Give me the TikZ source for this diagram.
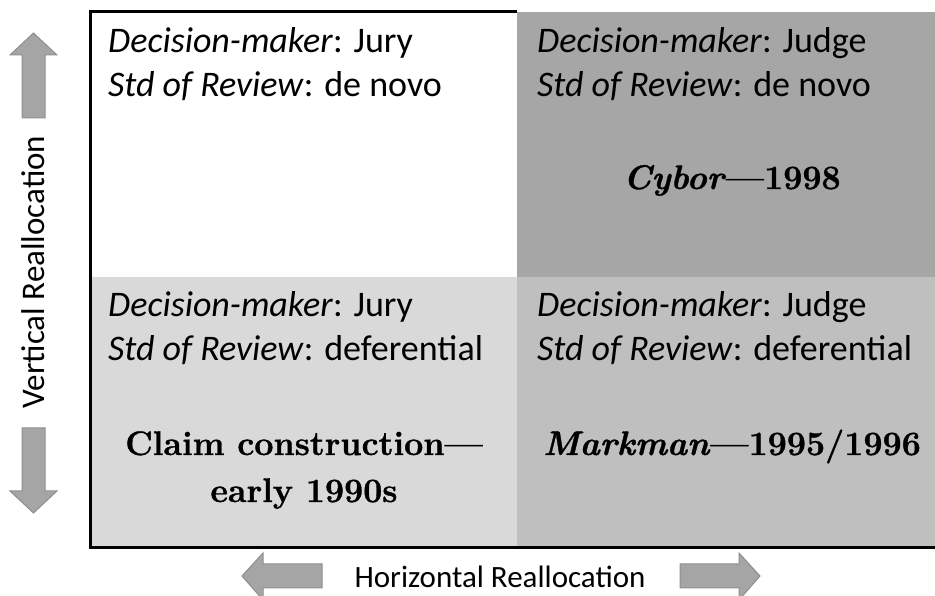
\documentclass[tikz,border=0pt]{standalone}
\usepackage{fontspec}
\setmainfont{Carlito}
\newfontfamily\casefont{Latin Modern Roman}[Ligatures=TeX, BoldFeatures={FakeBold=1}, BoldItalicFeatures={FakeBold=1}]
\usepackage{tikz}
\usetikzlibrary{positioning}
\definecolor{judgejury}{HTML}{D9D9D9}
\definecolor{judgedef}{HTML}{BFBFBF}
\definecolor{judgenovo}{HTML}{A6A6A6}
\definecolor{arrowgray}{HTML}{A5A5A5}
\definecolor{arrowedge}{HTML}{8F8F8F}
\tikzstyle{info}=[anchor=base west, inner sep=0pt, font=\fontsize{36}{44}\selectfont]
\tikzstyle{case}=[anchor=base, inner sep=0pt, font=\casefont\bfseries\fontsize{34}{47}\selectfont]
\tikzstyle{axis}=[anchor=base, inner sep=0pt, font=\fontsize{33}{40}\selectfont]
\tikzstyle{bigarrow}=[fill=arrowgray, draw=arrowedge, line width=1pt, line join=miter]

\begin{document}
\begin{tikzpicture}[x=1pt, y=1pt]
      \useasboundingbox (0, 0) rectangle (935, 596);

      % the four cells
      \fill[fill=white] (90, 584) rectangle (517, 319);
      \fill[fill=judgenovo] (517, 584) rectangle (935, 319);
      \fill[fill=judgejury] (90, 319) rectangle (517, 48);
      \fill[fill=judgedef] (517, 319) rectangle (935, 48);
      \draw[line width=3pt] (517, 584) -- (90, 584) -- (90, 48) -- (935, 48);

      \draw node at (108, 543) [info] (jurynovo) {\textit{Decision-maker}: Jury};
      \draw node at (108, 499) [info] (jurynovostd) {\textit{Std of Review}: de novo};
      \draw node at (537, 543) [info] (judgenovo) {\textit{Decision-maker}: Judge};
      \draw node at (537, 499) [info] (judgenovostd) {\textit{Std of Review}: de novo};
      \draw node at (108, 279) [info] (jurydef) {\textit{Decision-maker}: Jury};
      \draw node at (108, 235) [info] (jurydefstd) {\textit{Std of Review}: deferential};
      \draw node at (537, 279) [info] (judgedef) {\textit{Decision-maker}: Judge};
      \draw node at (537, 235) [info] (judgedefstd) {\textit{Std of Review}: deferential};

      \draw node at (732, 407) [case] (cybor) {\textit{Cybor}---1998};
      \draw node at (304, 141) [case] (claim) {Claim construction---};
      \draw node at (304, 94) [case] (early) {early 1990s};
      \draw node at (732, 141) [case] (markman) {\textit{Markman}---1995/1996};

      % axis labels and arrows
      \draw node at (45, 324) [axis, rotate=90] (vert) {Vertical Reallocation};
      \draw node at (500, 8) [axis, font=\fontsize{31}{38}\selectfont] (horiz) {Horizontal Reallocation};

      \draw[bigarrow] (22, 478) -- (22, 541) -- (10, 541) -- (33.5, 563) -- (57, 541) -- (45, 541) -- (45, 478) -- cycle;
      \draw[bigarrow] (22, 168) -- (22, 105) -- (10, 105) -- (33.5, 83) -- (57, 105) -- (45, 105) -- (45, 168) -- cycle;
      \draw[bigarrow] (322, 8) -- (263, 8) -- (263, -4) -- (242, 20) -- (263, 43) -- (263, 32) -- (322, 32) -- cycle;
      \draw[bigarrow] (680, 8) -- (739, 8) -- (739, -4) -- (760, 20) -- (739, 43) -- (739, 32) -- (680, 32) -- cycle;
    \end{tikzpicture}
\end{document}
